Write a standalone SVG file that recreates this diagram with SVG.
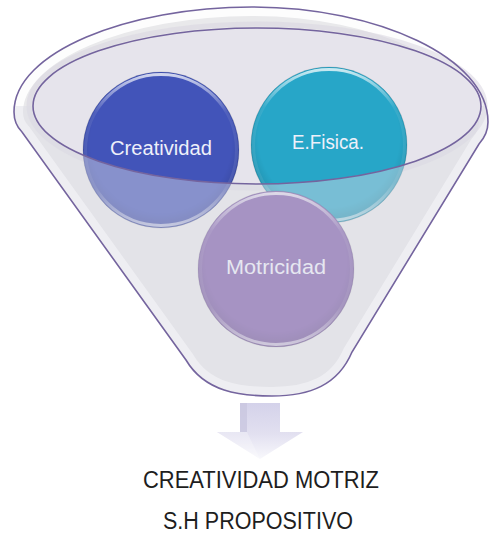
<svg xmlns="http://www.w3.org/2000/svg" width="492" height="533" viewBox="0 0 492 533">
<style>
.ctext{font-family:"Liberation Sans",Arial,sans-serif;font-size:20px;fill:#EEF0FA;text-anchor:middle}
.btext{font-family:"Liberation Sans",Arial,sans-serif;font-size:23px;fill:#1E1E1E;text-anchor:middle}
.ring{fill:none;stroke:url(#ring);stroke-width:3}
.edge{fill:none;stroke:#000;stroke-opacity:0.12;stroke-width:1}
.outline{fill:none;stroke:#74649E;stroke-width:1.6}
</style>
<defs>
<path id="outer" d="M14,112 C14,52 128,7 252,7 C378,7 488,58 488,122 Q488,134 479,144 L352,352 C338,385 310,396 272,396 C240,396 205,392 186,360 L22,132 Q14,124 14,112 Z"/>
<clipPath id="outerClip"><use href="#outer"/></clipPath>
<clipPath id="lowerClip"><rect x="0" y="106" width="492" height="300"/></clipPath>
<linearGradient id="ring" x1="0" y1="0" x2="0" y2="1">
<stop offset="0" stop-color="#fff" stop-opacity="0.75"/>
<stop offset="0.25" stop-color="#fff" stop-opacity="0.08"/>
<stop offset="0.75" stop-color="#fff" stop-opacity="0.08"/>
<stop offset="1" stop-color="#fff" stop-opacity="0.6"/>
</linearGradient>
<radialGradient id="shade" cx="0.5" cy="0.45" r="0.55">
<stop offset="0.82" stop-color="#000" stop-opacity="0"/>
<stop offset="1" stop-color="#000" stop-opacity="0.14"/>
</radialGradient>
<linearGradient id="arrowGrad" x1="0" y1="0" x2="0" y2="1">
<stop offset="0" stop-color="#D4D2EA"/>
<stop offset="0.55" stop-color="#E2E0F0"/>
<stop offset="1" stop-color="#F8F8FC"/>
</linearGradient>
</defs>

<g id="funnel-back">
<use href="#outer" fill="#E9E9EB"/>
<use href="#outer" fill="none" stroke="#FFFFFF" stroke-opacity="0.9" stroke-width="18" clip-path="url(#outerClip)"/>
<ellipse cx="257" cy="106" rx="228" ry="82" fill="none" stroke="#D8D6E0" stroke-width="5" stroke-opacity="0.55"/>
<ellipse cx="257" cy="106" rx="224" ry="78" fill="#E6E4EC"/>
</g>

<g id="node-creatividad">
<circle cx="161" cy="150" r="78" fill="#4254B9"/>
<circle cx="161" cy="150" r="78" fill="url(#shade)"/>
<circle cx="161" cy="150" r="75.5" class="ring"/>
<circle cx="161" cy="150" r="78" class="edge"/>
<text class="ctext" x="161" y="155" textLength="102" lengthAdjust="spacingAndGlyphs">Creatividad</text>
</g>

<g id="node-efisica">
<circle cx="329" cy="145" r="78" fill="#27A6C8"/>
<circle cx="329" cy="145" r="78" fill="url(#shade)"/>
<circle cx="329" cy="145" r="75.5" class="ring"/>
<circle cx="329" cy="145" r="78" class="edge"/>
<text class="ctext" x="328" y="149" textLength="72" lengthAdjust="spacingAndGlyphs">E.Fisica.</text>
</g>

<g id="node-motricidad">
<circle cx="276" cy="269" r="78" fill="#7A58A8"/>
<circle cx="276" cy="269" r="78" fill="url(#shade)"/>
<circle cx="276" cy="269" r="75.5" class="ring"/>
<circle cx="276" cy="269" r="78" class="edge"/>
<text class="ctext" x="276" y="274" textLength="100" lengthAdjust="spacingAndGlyphs">Motricidad</text>
</g>

<g id="funnel-front">
<path clip-path="url(#lowerClip)" fill="#DCDCE4" fill-opacity="0.45" fill-rule="evenodd" d="M14,112 C14,52 128,7 252,7 C378,7 488,58 488,122 Q488,134 479,144 L352,352 C338,385 310,396 272,396 C240,396 205,392 186,360 L22,132 Q14,124 14,112 Z M33,106 A224,78 0 1 0 481,106 A224,78 0 1 0 33,106 Z"/>
<ellipse cx="257" cy="106" rx="224" ry="78" class="outline"/>
<use href="#outer" class="outline"/>
</g>

<g id="connectors">
<g id="arrow">
<polygon points="240,403 280,403 280,432 303,432 260,459 217,432 240,432" fill="url(#arrowGrad)"/>
<polygon points="240,403 247,403 247,432 240,432" fill="#C9C7E0" fill-opacity="0.8"/>
<polygon points="217,432 247,432 260,459" fill="#FFFFFF" fill-opacity="0.25"/>
</g>
</g>

<g id="labels">
<text class="btext" x="261" y="488" textLength="236" lengthAdjust="spacingAndGlyphs">CREATIVIDAD MOTRIZ</text>
<text class="btext" x="258" y="529" textLength="190" lengthAdjust="spacingAndGlyphs">S.H PROPOSITIVO</text>
</g>
</svg>
